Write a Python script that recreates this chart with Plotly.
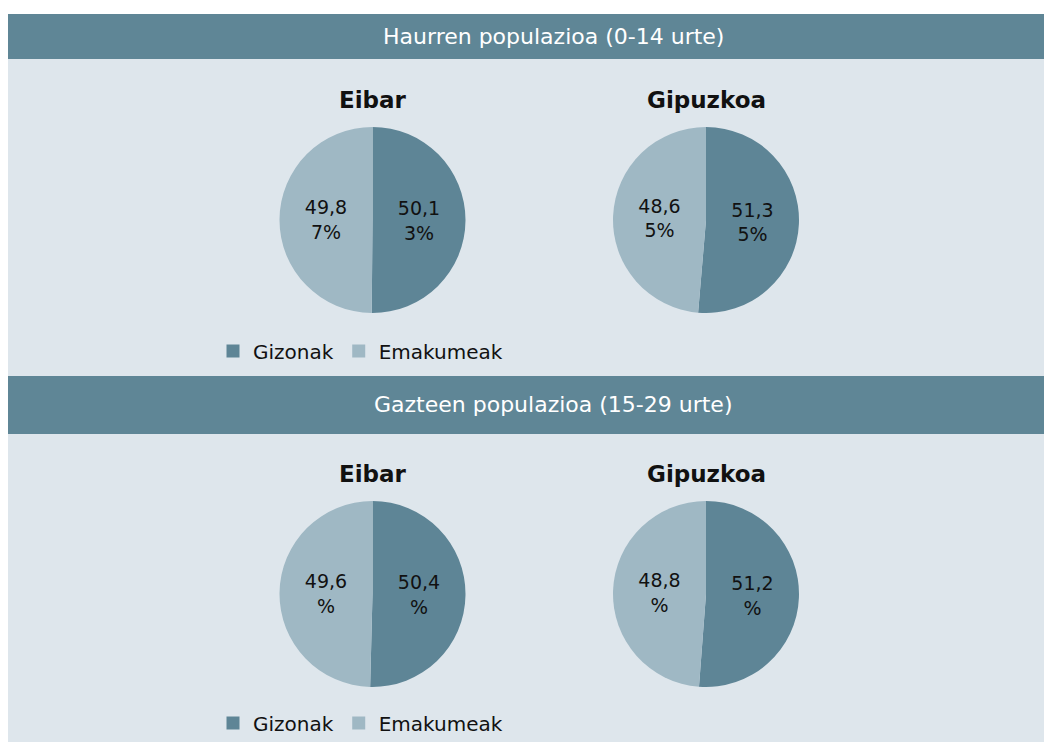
import plotly.graph_objects as go

W, H = 1052, 742
OFF = 8  # page body margin offset

labels = ["Gizonak", "Emakumeak"]
section_titles = ["Haurren populazioa (0-14 urte)", "Gazteen populazioa (15-29 urte)"]
places = ["Eibar", "Gipuzkoa"]
# values per section, per place: [Gizonak, Emakumeak]
values_haurrak = {"Eibar": [50.13, 49.87], "Gipuzkoa": [51.35, 48.65]}
values_gazteak = {"Eibar": [50.4, 49.6], "Gipuzkoa": [51.2, 48.8]}
text_haurrak = {"Eibar": ["50,1<br>3%", "49,8<br>7%"], "Gipuzkoa": ["51,3<br>5%", "48,6<br>5%"]}
text_gazteak = {"Eibar": ["50,4<br>%", "49,6<br>%"], "Gipuzkoa": ["51,2<br>%", "48,8<br>%"]}

colors = ["#5e8596", "#9fb8c4"]
bg = "#dee6ec"
hdr = "#5f8696"
FONT = "DejaVu Sans"


def px_x(x):
    return (x - OFF) / W


def px_y(y):
    return 1 - (y - OFF) / H


fig = go.Figure()

centers_x = {"Eibar": 372.5, "Gipuzkoa": 706}
centers_y = [220, 594]
R = 93
sections = [(values_haurrak, text_haurrak), (values_gazteak, text_gazteak)]

for si, (vals, txts) in enumerate(sections):
    cy = centers_y[si]
    for place in places:
        cx = centers_x[place]
        fig.add_trace(go.Pie(
            labels=labels,
            values=vals[place],
            text=txts[place],
            textinfo="text",
            textposition="inside",
            insidetextorientation="horizontal",
            sort=False,
            direction="clockwise",
            rotation=0,
            marker=dict(colors=colors, line=dict(width=0)),
            textfont=dict(family=FONT, size=19, color="#111111"),
            domain=dict(x=[px_x(cx - R), px_x(cx + R)], y=[px_y(cy + R), px_y(cy - R)]),
            showlegend=False,
            hoverinfo="label+percent",
        ))

# legend entries (one legend per section)
for leg in ["legend", "legend2"]:
    for lab, col in zip(labels, colors):
        fig.add_trace(go.Scatter(
            x=[None], y=[None], mode="markers", name=lab,
            marker=dict(symbol="square", size=13, color=col),
            legend=leg, showlegend=True,
        ))

shapes = [
    dict(type="rect", xref="paper", yref="paper", x0=px_x(5), x1=1, y0=0, y1=px_y(14),
         fillcolor=bg, line=dict(width=0), layer="below"),
    dict(type="rect", xref="paper", yref="paper", x0=px_x(5), x1=1, y0=px_y(59), y1=px_y(14),
         fillcolor=hdr, line=dict(width=0), layer="below"),
    dict(type="rect", xref="paper", yref="paper", x0=px_x(5), x1=1, y0=px_y(434), y1=px_y(376),
         fillcolor=hdr, line=dict(width=0), layer="below"),
]

annotations = []
for t, yy in zip(section_titles, [36.5, 405]):
    annotations.append(dict(text=t, x=px_x(553), y=px_y(yy), xref="paper", yref="paper",
                            showarrow=False, xanchor="center", yanchor="middle",
                            font=dict(family=FONT, size=22, color="#ffffff")))
for yy in [100, 474]:
    for place in places:
        annotations.append(dict(text="<b>" + place + "</b>", x=px_x(centers_x[place]), y=px_y(yy),
                                xref="paper", yref="paper", showarrow=False,
                                xanchor="center", yanchor="middle",
                                font=dict(family=FONT, size=23, color="#111111")))

legend_common = dict(orientation="h", xanchor="left", yanchor="middle", bgcolor="rgba(0,0,0,0)",
                     font=dict(family=FONT, size=20, color="#111111"), itemwidth=30,
                     traceorder="normal")

fig.update_layout(
    width=W, height=H,
    margin=dict(l=0, r=0, t=0, b=0),
    paper_bgcolor="#ffffff",
    plot_bgcolor="rgba(0,0,0,0)",
    xaxis=dict(visible=False),
    yaxis=dict(visible=False),
    shapes=shapes,
    annotations=annotations,
    showlegend=True,
    legend=dict(x=px_x(213), y=px_y(351), **legend_common),
    legend2=dict(x=px_x(213), y=px_y(723), **legend_common),
)

fig.write_html("out.html")
